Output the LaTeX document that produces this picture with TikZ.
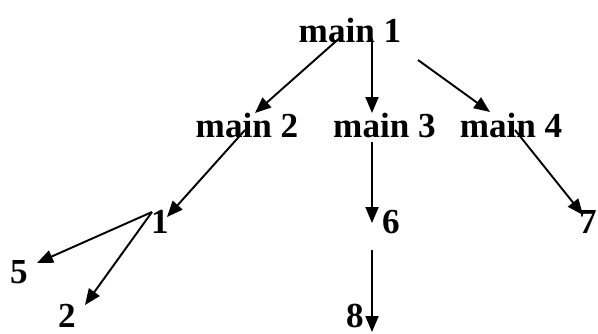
\documentclass[tikz,border=0pt]{standalone}
\usepackage{fontspec}
\setmainfont{Liberation Serif}
\usetikzlibrary{arrows.meta,calc}

\begin{document}
\begin{tikzpicture}[every node/.style={font=\fontsize{20}{24}\selectfont\bfseries, inner sep=0pt, anchor=base}, >={Triangle[length=3.2mm, width=2.6mm]}, link/.style={->, line width=1.1pt}]
	\useasboundingbox (0,0) rectangle (11.96,-6.66);
	\node (m1) at (7.0,-0.84) {main 1};
	\node (m2) at (4.94,-2.74) {main 2};
	\node (m3) at (7.69,-2.74) {main 3};
	\node (m4) at (10.22,-2.74) {main 4};
	\node (n1) at (3.2,-4.66) {1};
	\node (n5) at (0.38,-5.66) {5};
	\node (n2) at (1.34,-6.54) {2};
	\node (n6) at (7.82,-4.66) {6};
	\node (n8) at (7.1,-6.54) {8};
	\node (n7) at (11.76,-4.66) {7};
	\draw[link] ($(m1.base)+(-0.14,0.14)$) -- ($(m2.base)+(0.16,0.48)$);
	\draw[link] ($(m1.base)+(0.44,0.08)$) -- ($(m3.base)+(-0.25,0.48)$);
	\draw[link] ($(m1.base)+(1.36,-0.36)$) -- ($(m4.base)+(-0.42,0.5)$);
	\draw[link] ($(m2.base)+(-0.04,0.14)$) -- ($(n1.base)+(0.14,0.32)$);
	\draw[link] ($(n1.base)+(-0.16,0.42)$) -- ($(n5.base)+(0.36,0.4)$);
	\draw[link] ($(n1.base)+(-0.16,0.42)$) -- ($(n2.base)+(0.36,0.44)$);
	\draw[link] ($(m3.base)+(-0.25,-0.1)$) -- ($(n6.base)+(-0.38,0.2)$);
	\draw[link] ($(n6.base)+(-0.38,-0.34)$) -- ($(n8.base)+(0.34,-0.1)$);
	\draw[link] ($(m4.base)+(0.08,0.14)$) -- ($(n7.base)+(-0.1,0.36)$);
\end{tikzpicture}
\end{document}
